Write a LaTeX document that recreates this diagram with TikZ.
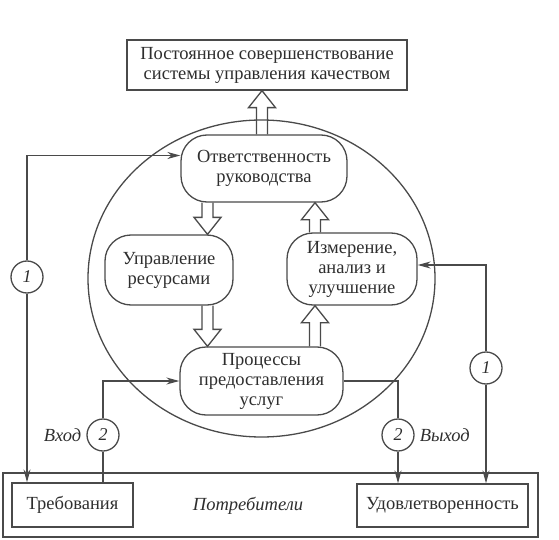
\documentclass[tikz,border=0pt]{standalone}
\usepackage{fontspec}
\setmainfont{Liberation Serif}
\usetikzlibrary{arrows.meta,calc,shapes.geometric}
\definecolor{ink}{HTML}{4A4A4A}
\definecolor{txt}{HTML}{2E2E2E}
\tikzset{
  base/.style={draw=ink, line width=1.3pt, text=txt, font=\fontsize{18.5}{20}\selectfont, align=center, inner sep=0pt},
  sqbox/.style={base, rectangle},
  rbox/.style={base, rectangle, rounded corners=26pt},
  numc/.style={base, circle, minimum size=32pt, font=\fontsize{18}{20}\selectfont\itshape},
  conn/.style={draw=ink, line width=1.3pt, -{Stealth[length=13pt,width=7pt]}},
  plain/.style={draw=ink, line width=1.3pt},
  hollow/.style={draw=ink, line width=1.3pt, line join=miter},
  lbl/.style={text=txt, font=\fontsize{18.5}{20}\selectfont\itshape, inner sep=0pt}
}
\newcommand\blockarr[2]{%
  \draw[hollow] let \p1=#1, \p2=#2, \n1={sign(\y2-\y1)} in
    (\x1-5.5pt,\y1) -- (\x1-5.5pt,\y2-\n1*17pt) -- (\x1-13.5pt,\y2-\n1*17pt) -- (\x1,\y2)
    -- (\x1+13.5pt,\y2-\n1*17pt) -- (\x1+5.5pt,\y2-\n1*17pt) -- (\x1+5.5pt,\y1);}
\begin{document}
\begin{tikzpicture}[x=1pt,y=-1pt]
\useasboundingbox (0,0) rectangle (559,540);
% big ellipse
\draw[plain] (261.5,278.5) ellipse [x radius=173.5, y radius=158.5];
% outer customers box
\node[sqbox, minimum width=535pt, minimum height=64pt] (outer) at (270.5,505) {};
% nodes
\node[sqbox, minimum width=280pt, minimum height=50pt] (top) at (267,65)
  {Постоянное совершенствование\\системы управления качеством};
\node[rbox, minimum width=166pt, minimum height=67pt] (otv) at (264,168.5)
  {Ответственность\\руководства};
\node[rbox, minimum width=128pt, minimum height=70pt] (upr) at (169,270)
  {Управление\\ресурсами};
\node[rbox, minimum width=130pt, minimum height=72pt] (izm) at (352,269)
  {Измерение,\\анализ и\\улучшение};
\node[rbox, minimum width=163pt, minimum height=68pt] (proc) at (261.5,381)
  {Процессы\\предоставления\\услуг};
\node[sqbox, minimum width=121pt, minimum height=44pt] (treb) at (72.5,505) {Требования};
\node[sqbox, minimum width=171pt, minimum height=43pt] (udov) at (442.5,505.5) {Удовлетворенность};
\node[lbl] (potr) at (248,506) {Потребители};
% numbered circles
\node[numc] (c1l) at (27,277) {1};
\node[numc] (c1r) at (486,368) {1};
\node[numc] (c2l) at (103,435) {2};
\node[numc] (c2r) at (398,435) {2};
\node[lbl, anchor=east] (vhod) at ([xshift=-5pt]c2l.west) {Вход};
\node[lbl, anchor=west] (vyhod) at ([xshift=5pt]c2r.east) {Выход};
% column coordinates for block arrows
\coordinate (lc) at (207.5,0);
\coordinate (rc) at (315,0);
\coordinate (tc) at (262,0);
\blockarr{(tc |- otv.north)}{(tc |- top.south)}
\blockarr{(lc |- otv.south)}{(lc |- upr.north)}
\blockarr{(lc |- upr.south)}{(lc |- proc.north)}
\blockarr{(rc |- proc.north)}{(rc |- izm.south)}
\blockarr{(rc |- izm.north)}{(rc |- otv.south)}
% connectors
\coordinate (otvin) at ([yshift=13pt]otv.west);
\coordinate (izmin) at ([yshift=4pt]izm.east);
\draw[conn] (c1l.north) |- (otvin);
\draw[conn] (c1l.south) -- (c1l |- treb.north);
\draw[conn] (c1r.north) |- (izmin);
\draw[conn] (c1r.south) -- (c1r |- udov.north);
\draw[plain] (c2l |- treb.north) -- (c2l.south);
\draw[conn] (c2l.north) |- (proc.west);
\draw[plain] (proc.east) -| (c2r.north);
\draw[conn] (c2r.south) -- (c2r |- udov.north);
\end{tikzpicture}
\end{document}
